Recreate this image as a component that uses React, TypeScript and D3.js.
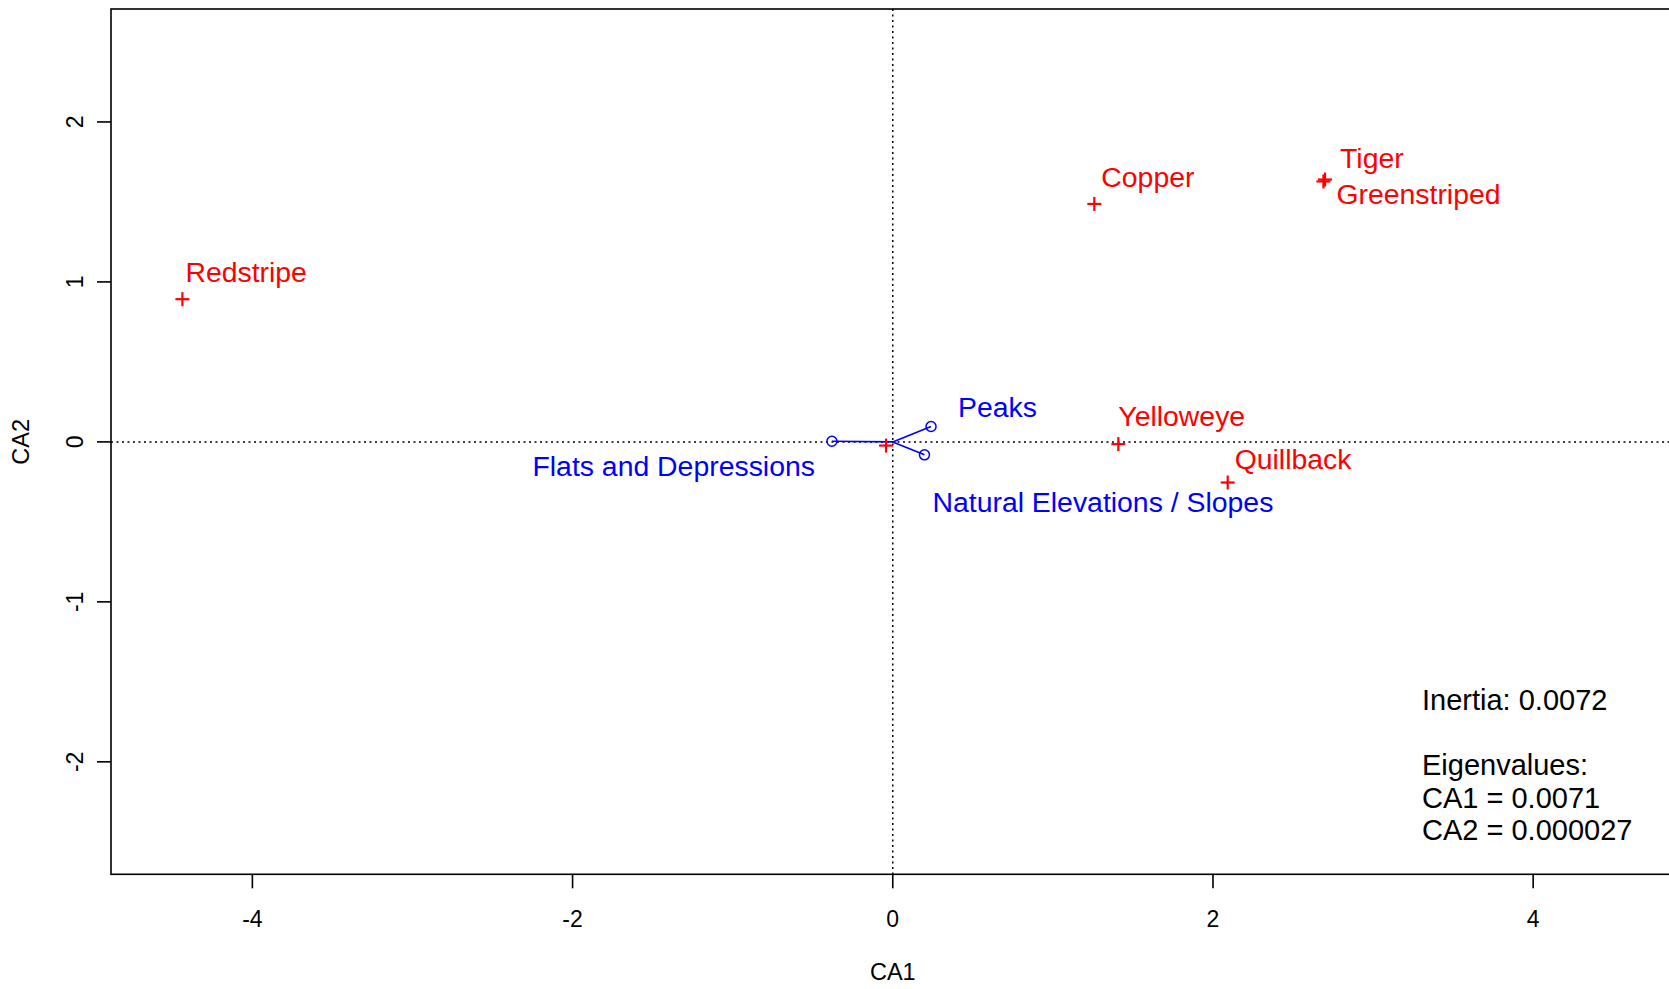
import React from "react";
import * as d3 from "d3";

const speciesNames = ["Redstripe", "Copper", "Tiger", "Greenstriped", "Yelloweye", "Quillback", ""];
const speciesCA1 = [-4.437, 1.259, 2.70, 2.69, 1.409, 2.092, -0.042];
const speciesCA2 = [0.892, 1.4875, 1.64, 1.628, -0.014, -0.254, -0.023];

const habitatNames = ["Flats and Depressions", "Peaks", "Natural Elevations / Slopes"];
const habitatCA1 = [-0.38, 0.239, 0.198];
const habitatCA2 = [0.004, 0.096, -0.081];

const xTicks = [-4, -2, 0, 2, 4];
const yTicks = [-2, -1, 0, 1, 2];

const infoLines = ["Inertia: 0.0072", "", "Eigenvalues:", "CA1 = 0.0071", "CA2 = 0.000027"];

// label layout offsets (pixels)
const speciesLabelOffset: [number, number][] = [
  [3, -27], [7, -27], [15, -22], [13, 13], [0, -28], [7, -24], [0, 0],
];
const habitatLabelOffset: [number, number, string][] = [
  [-17, 25, "end"], [27, -20, "start"], [8, 47, "start"],
];

export default function App() {
  const W = 1669, H = 989;
  const left = 111, top = 9, bottom = 874.3;
  const x = d3.scaleLinear().domain([-4.883, 5.5]).range([left, left + 10.383 * 160.1]);
  const y = d3.scaleLinear().domain([-2.703, 2.706]).range([bottom, top]);
  const right = x(5.5);
  const font = "Liberation Sans, Arial, sans-serif";
  const red = "#ff0000";
  const blue = "#0000ff";
  const pl = 7;
  const labelSize = 28.4;

  return (
    <svg width={W} height={H} style={{ position: "absolute", left: 0, top: 0, background: "#fff" }} fontFamily={font}>
      <rect x={0} y={0} width={W} height={H} fill="#fff" />
      {/* zero lines */}
      <line x1={left} x2={right} y1={y(0)} y2={y(0)} stroke="#000" strokeWidth={1.5} strokeDasharray="2 3.5" />
      <line x1={x(0)} x2={x(0)} y1={top} y2={bottom} stroke="#000" strokeWidth={1.5} strokeDasharray="2 3.5" />
      {/* frame */}
      <rect x={left} y={top} width={right - left} height={bottom - top} fill="none" stroke="#000" strokeWidth={1.6} />
      {/* x axis */}
      {xTicks.map((t) => (
        <g key={"xt" + t}>
          <line x1={x(t)} x2={x(t)} y1={bottom} y2={bottom + 14} stroke="#000" strokeWidth={1.6} />
          <text x={x(t)} y={918.6} fontSize={23} textAnchor="middle" dominantBaseline="central">{t}</text>
        </g>
      ))}
      {yTicks.map((t) => (
        <g key={"yt" + t}>
          <line x1={left - 14} x2={left} y1={y(t)} y2={y(t)} stroke="#000" strokeWidth={1.6} />
          <text transform={`translate(74.5,${y(t)}) rotate(-90)`} fontSize={23} textAnchor="middle" dominantBaseline="central">{t}</text>
        </g>
      ))}
      <text x={x(0)} y={972} fontSize={23.5} textAnchor="middle" dominantBaseline="central">CA1</text>
      <text transform={`translate(21.3,${y(0)}) rotate(-90)`} fontSize={23.5} textAnchor="middle" dominantBaseline="central">CA2</text>

      {/* habitat vectors */}
      {habitatNames.map((n, i) => (
        <g key={"h" + i}>
          <line x1={x(0)} y1={y(0)} x2={x(habitatCA1[i])} y2={y(habitatCA2[i])} stroke={blue} strokeWidth={1.6} />
          <circle cx={x(habitatCA1[i])} cy={y(habitatCA2[i])} r={5} fill="none" stroke={blue} strokeWidth={1.5} />
          <text
            x={x(habitatCA1[i]) + habitatLabelOffset[i][0]}
            y={y(habitatCA2[i]) + habitatLabelOffset[i][1]}
            fontSize={labelSize}
            fill={blue}
            textAnchor={habitatLabelOffset[i][2] as any}
            dominantBaseline="central"
          >{n}</text>
        </g>
      ))}

      {/* species */}
      {speciesNames.map((n, i) => {
        const cx = x(speciesCA1[i]);
        const cy = y(speciesCA2[i]);
        return (
          <g key={"s" + i}>
            <line x1={cx - pl} x2={cx + pl} y1={cy} y2={cy} stroke={red} strokeWidth={2.2} />
            <line x1={cx} x2={cx} y1={cy - pl} y2={cy + pl} stroke={red} strokeWidth={2.2} />
            {n && (
              <text x={cx + speciesLabelOffset[i][0]} y={cy + speciesLabelOffset[i][1]} fontSize={labelSize} fill={red} dominantBaseline="central">{n}</text>
            )}
          </g>
        );
      })}

      {/* info text */}
      {infoLines.map((l, i) => (
        <text key={"info" + i} x={1422} y={700 + i * 32.5} fontSize={29} fill="#000" dominantBaseline="central">{l}</text>
      ))}
    </svg>
  );
}
